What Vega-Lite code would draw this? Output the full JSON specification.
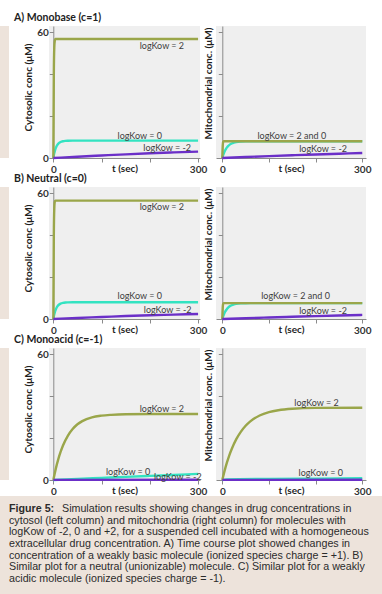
{
"$schema": "https://vega.github.io/schema/vega-lite/v6.json",
"background": "white",
"padding": {"top": 12, "left": 0, "right": 0, "bottom": 0},
"config": {
 "font": "Lato",
 "view": {"fill": "#efefef", "stroke": null},
 "axis": {"domainColor": "#8a8a8a", "tickColor": "#8a8a8a", "tickSize": 4, "labelFont": "Lato", "labelFontSize": 10, "labelFontWeight": "bold", "labelColor": "#333333", "titleFont": "Lato", "titleFontSize": 10, "titleFontWeight": "bold", "titleColor": "#1f1f1f", "grid": false, "minExtent": 0},
 "title": {"font": "Lato"}
},
"datasets": {
 "curves": [
  {"p":"A-cyt","k":"0","t":0,"c":0},{"p":"A-cyt","k":"0","t":1,"c":1.27},{"p":"A-cyt","k":"0","t":2,"c":2.35},{"p":"A-cyt","k":"0","t":3,"c":3.27},{"p":"A-cyt","k":"0","t":4,"c":4.04},{"p":"A-cyt","k":"0","t":5,"c":4.69},{"p":"A-cyt","k":"0","t":6,"c":5.25},{"p":"A-cyt","k":"0","t":8,"c":6.11},{"p":"A-cyt","k":"0","t":10,"c":6.73},{"p":"A-cyt","k":"0","t":12,"c":7.18},{"p":"A-cyt","k":"0","t":15,"c":7.62},{"p":"A-cyt","k":"0","t":20,"c":8.0},{"p":"A-cyt","k":"0","t":25,"c":8.17},{"p":"A-cyt","k":"0","t":30,"c":8.24},{"p":"A-cyt","k":"0","t":40,"c":8.29},{"p":"A-cyt","k":"0","t":300,"c":8.3},
  {"p":"A-cyt","k":"2","t":0,"c":0},{"p":"A-cyt","k":"2","t":1,"c":40},{"p":"A-cyt","k":"2","t":2,"c":53},{"p":"A-cyt","k":"2","t":3,"c":56},{"p":"A-cyt","k":"2","t":4,"c":56.8},{"p":"A-cyt","k":"2","t":300,"c":56.8},
  {"p":"A-cyt","k":"-2","t":0,"c":0},{"p":"A-cyt","k":"-2","t":50,"c":0.62},{"p":"A-cyt","k":"-2","t":100,"c":1.2},{"p":"A-cyt","k":"-2","t":150,"c":1.75},{"p":"A-cyt","k":"-2","t":200,"c":2.25},{"p":"A-cyt","k":"-2","t":250,"c":2.68},{"p":"A-cyt","k":"-2","t":300,"c":3.05},

  {"p":"A-mito","k":"0","t":0,"c":0},{"p":"A-mito","k":"0","t":2,"c":1.45},{"p":"A-mito","k":"0","t":4,"c":2.64},{"p":"A-mito","k":"0","t":6,"c":3.61},{"p":"A-mito","k":"0","t":8,"c":4.41},{"p":"A-mito","k":"0","t":10,"c":5.06},{"p":"A-mito","k":"0","t":13,"c":5.82},{"p":"A-mito","k":"0","t":16,"c":6.38},{"p":"A-mito","k":"0","t":20,"c":6.92},{"p":"A-mito","k":"0","t":25,"c":7.34},{"p":"A-mito","k":"0","t":30,"c":7.6},{"p":"A-mito","k":"0","t":40,"c":7.85},{"p":"A-mito","k":"0","t":50,"c":7.95},{"p":"A-mito","k":"0","t":60,"c":7.98},{"p":"A-mito","k":"0","t":300,"c":8.0},
  {"p":"A-mito","k":"2","t":0,"c":0},{"p":"A-mito","k":"2","t":1,"c":6},{"p":"A-mito","k":"2","t":2,"c":7.8},{"p":"A-mito","k":"2","t":3,"c":8},{"p":"A-mito","k":"2","t":300,"c":8},
  {"p":"A-mito","k":"-2","t":0,"c":0},{"p":"A-mito","k":"-2","t":50,"c":0.45},{"p":"A-mito","k":"-2","t":100,"c":0.88},{"p":"A-mito","k":"-2","t":150,"c":1.3},{"p":"A-mito","k":"-2","t":200,"c":1.7},{"p":"A-mito","k":"-2","t":250,"c":2.05},{"p":"A-mito","k":"-2","t":300,"c":2.4},

  {"p":"B-cyt","k":"0","t":0,"c":0},{"p":"B-cyt","k":"0","t":1,"c":1.23},{"p":"B-cyt","k":"0","t":2,"c":2.27},{"p":"B-cyt","k":"0","t":3,"c":3.15},{"p":"B-cyt","k":"0","t":4,"c":3.89},{"p":"B-cyt","k":"0","t":5,"c":4.52},{"p":"B-cyt","k":"0","t":6,"c":5.06},{"p":"B-cyt","k":"0","t":8,"c":5.89},{"p":"B-cyt","k":"0","t":10,"c":6.49},{"p":"B-cyt","k":"0","t":12,"c":6.92},{"p":"B-cyt","k":"0","t":15,"c":7.34},{"p":"B-cyt","k":"0","t":20,"c":7.71},{"p":"B-cyt","k":"0","t":25,"c":7.88},{"p":"B-cyt","k":"0","t":30,"c":7.95},{"p":"B-cyt","k":"0","t":40,"c":7.99},{"p":"B-cyt","k":"0","t":300,"c":8.0},
  {"p":"B-cyt","k":"2","t":0,"c":0},{"p":"B-cyt","k":"2","t":1,"c":40},{"p":"B-cyt","k":"2","t":2,"c":53},{"p":"B-cyt","k":"2","t":3,"c":56},{"p":"B-cyt","k":"2","t":4,"c":56.5},{"p":"B-cyt","k":"2","t":300,"c":56.5},
  {"p":"B-cyt","k":"-2","t":0,"c":0},{"p":"B-cyt","k":"-2","t":50,"c":0.5},{"p":"B-cyt","k":"-2","t":100,"c":0.95},{"p":"B-cyt","k":"-2","t":150,"c":1.4},{"p":"B-cyt","k":"-2","t":200,"c":1.8},{"p":"B-cyt","k":"-2","t":250,"c":2.1},{"p":"B-cyt","k":"-2","t":300,"c":2.4},

  {"p":"B-mito","k":"0","t":0,"c":0},{"p":"B-mito","k":"0","t":2,"c":1.38},{"p":"B-mito","k":"0","t":4,"c":2.51},{"p":"B-mito","k":"0","t":6,"c":3.43},{"p":"B-mito","k":"0","t":8,"c":4.19},{"p":"B-mito","k":"0","t":10,"c":4.8},{"p":"B-mito","k":"0","t":13,"c":5.53},{"p":"B-mito","k":"0","t":16,"c":6.07},{"p":"B-mito","k":"0","t":20,"c":6.57},{"p":"B-mito","k":"0","t":25,"c":6.98},{"p":"B-mito","k":"0","t":30,"c":7.22},{"p":"B-mito","k":"0","t":40,"c":7.46},{"p":"B-mito","k":"0","t":50,"c":7.55},{"p":"B-mito","k":"0","t":60,"c":7.58},{"p":"B-mito","k":"0","t":300,"c":7.6},
  {"p":"B-mito","k":"2","t":0,"c":0},{"p":"B-mito","k":"2","t":1,"c":5.7},{"p":"B-mito","k":"2","t":2,"c":7.4},{"p":"B-mito","k":"2","t":3,"c":7.6},{"p":"B-mito","k":"2","t":300,"c":7.6},
  {"p":"B-mito","k":"-2","t":0,"c":0},{"p":"B-mito","k":"-2","t":50,"c":0.38},{"p":"B-mito","k":"-2","t":100,"c":0.72},{"p":"B-mito","k":"-2","t":150,"c":1.05},{"p":"B-mito","k":"-2","t":200,"c":1.38},{"p":"B-mito","k":"-2","t":250,"c":1.68},{"p":"B-mito","k":"-2","t":300,"c":1.95},

  {"p":"C-cyt","k":"0","t":0,"c":0},{"p":"C-cyt","k":"0","t":50,"c":0.5},{"p":"C-cyt","k":"0","t":100,"c":1.0},{"p":"C-cyt","k":"0","t":150,"c":1.48},{"p":"C-cyt","k":"0","t":200,"c":1.95},{"p":"C-cyt","k":"0","t":250,"c":2.42},{"p":"C-cyt","k":"0","t":300,"c":2.9},
  {"p":"C-cyt","k":"2","t":0,"c":0},{"p":"C-cyt","k":"2","t":5,"c":5.32},{"p":"C-cyt","k":"2","t":10,"c":9.75},{"p":"C-cyt","k":"2","t":15,"c":13.4},{"p":"C-cyt","k":"2","t":20,"c":16.5},{"p":"C-cyt","k":"2","t":30,"c":21.1},{"p":"C-cyt","k":"2","t":40,"c":24.3},{"p":"C-cyt","k":"2","t":50,"c":26.6},{"p":"C-cyt","k":"2","t":60,"c":28.1},{"p":"C-cyt","k":"2","t":80,"c":29.9},{"p":"C-cyt","k":"2","t":100,"c":30.7},{"p":"C-cyt","k":"2","t":120,"c":31.1},{"p":"C-cyt","k":"2","t":150,"c":31.4},{"p":"C-cyt","k":"2","t":200,"c":31.5},{"p":"C-cyt","k":"2","t":300,"c":31.5},
  {"p":"C-cyt","k":"-2","t":0,"c":0.05},{"p":"C-cyt","k":"-2","t":300,"c":0.15},

  {"p":"C-mito","k":"0","t":0,"c":0},{"p":"C-mito","k":"0","t":10,"c":0.3},{"p":"C-mito","k":"0","t":100,"c":0.5},{"p":"C-mito","k":"0","t":200,"c":0.65},{"p":"C-mito","k":"0","t":300,"c":0.8},
  {"p":"C-mito","k":"2","t":0,"c":0},{"p":"C-mito","k":"2","t":5,"c":4.49},{"p":"C-mito","k":"2","t":10,"c":8.37},{"p":"C-mito","k":"2","t":15,"c":11.8},{"p":"C-mito","k":"2","t":20,"c":14.7},{"p":"C-mito","k":"2","t":30,"c":19.5},{"p":"C-mito","k":"2","t":40,"c":23.1},{"p":"C-mito","k":"2","t":50,"c":25.9},{"p":"C-mito","k":"2","t":60,"c":28.0},{"p":"C-mito","k":"2","t":80,"c":30.8},{"p":"C-mito","k":"2","t":100,"c":32.4},{"p":"C-mito","k":"2","t":120,"c":33.3},{"p":"C-mito","k":"2","t":150,"c":34.0},{"p":"C-mito","k":"2","t":200,"c":34.4},{"p":"C-mito","k":"2","t":300,"c":34.5},
  {"p":"C-mito","k":"-2","t":0,"c":0.05},{"p":"C-mito","k":"-2","t":300,"c":0.1}
 ],
 "labels": [
  {"p":"A-cyt","text":"logKow = 2","t":225,"c":53.6},{"p":"A-cyt","text":"logKow = 0","t":179,"c":10.7},{"p":"A-cyt","text":"logKow = -2","t":236,"c":4.8},
  {"p":"A-mito","text":"logKow = 2 and 0","t":149,"c":10.7},{"p":"A-mito","text":"logKow = -2","t":216,"c":4.3},
  {"p":"B-cyt","text":"logKow = 2","t":225,"c":53.6},{"p":"B-cyt","text":"logKow = 0","t":179,"c":10.9},{"p":"B-cyt","text":"logKow = -2","t":237,"c":4.5},
  {"p":"B-mito","text":"logKow = 2 and 0","t":157,"c":10.9},{"p":"B-mito","text":"logKow = -2","t":216,"c":3.7},
  {"p":"C-cyt","text":"logKow = 2","t":225,"c":33.9},{"p":"C-cyt","text":"logKow = 0","t":155,"c":4.0},{"p":"C-cyt","text":"logKow = -2","t":258,"c":1.6},
  {"p":"C-mito","text":"logKow = 2","t":202,"c":36.8},{"p":"C-mito","text":"logKow = 0","t":211,"c":3.5}
 ],
 "caption": [
  {"line":1,"part":"label","text":"Figure 5:"},
  {"line":1,"part":"first","text":"Simulation results showing changes in drug concentrations in"},
  {"line":2,"part":"body","text":"cytosol (left column) and mitochondria (right column) for molecules with"},
  {"line":3,"part":"body","text":"logKow of -2, 0 and +2, for a suspended cell incubated with a homogeneous"},
  {"line":4,"part":"body","text":"extracellular drug concentration. A) Time course plot showed changes in"},
  {"line":5,"part":"body","text":"concentration of a weakly basic molecule (ionized species charge = +1). B)"},
  {"line":6,"part":"body","text":"Similar plot for a neutral (unionizable) molecule. C) Similar plot for a weakly"},
  {"line":7,"part":"body","text":"acidic molecule (ionized species charge = -1)."}
 ],
 "blank": [{"text": ""}]
},
"columns": 1,
"spacing": -1,
"concat": [
 {"title": {"text": "A) Monobase (c=1)", "anchor": "start", "frame": "bounds", "dx": 14, "offset": 2, "fontSize": 10.5, "fontWeight": "bold", "color": "#222222"},
  "bounds": "flush", "spacing": 16,
  "hconcat": [
   {"width": 9, "height": 132, "view": {"fill": "#ede3db", "stroke": null}, "data": {"name": "blank"}, "mark": {"type": "text"}, "encoding": {"text": {"field": "text", "type": "nominal"}}},
   {"width": 8, "height": 10, "view": {"fill": null, "stroke": null}, "data": {"name": "blank"}, "mark": {"type": "text"}, "encoding": {"text": {"field": "text", "type": "nominal"}}},
   {"width": 151, "height": 132, "layer": [
    {"data": {"name": "curves"}, "transform": [{"filter": "datum.p == 'A-cyt'"}], "mark": {"type": "line", "strokeWidth": 2.4, "interpolate": "monotone"},
     "encoding": {
      "x": {"field": "t", "type": "quantitative", "scale": {"domain": [-9, 304], "nice": false, "zero": false}, "axis": {"title": "t (sec)", "values": [0,50,100,150,200,250,300], "labelExpr": "datum.value == 0 || datum.value == 300 ? datum.label : ''", "labelFlush": false, "labelOverlap": false, "labelPadding": 2, "titleY": 13.5, "titleBaseline": "alphabetic"}},
      "y": {"field": "c", "type": "quantitative", "scale": {"domain": [0, 63], "nice": false, "zero": false}, "axis": {"title": "Cytosolic conc (μM)", "values": [0,10,20,30,40,50,60], "labelExpr": "datum.value % 30 == 0 ? datum.label : ''", "offset": -4.3, "labelPadding": 1, "titlePadding": 3, "titleY": 61, "minExtent": 0, "labelOverlap": false}},
      "color": {"field": "k", "type": "nominal", "scale": {"domain": ["2","0","-2"], "range": ["#9aa64a","#33e3c1","#6b2fc8"]}, "legend": null}}},
    {"data": {"name": "labels"}, "transform": [{"filter": "datum.p == 'A-cyt'"}], "mark": {"type": "text", "fontSize": 9, "color": "#3d3d3d", "font": "Lato"},
     "encoding": {"x": {"field": "t", "type": "quantitative"}, "y": {"field": "c", "type": "quantitative"}, "text": {"field": "text", "type": "nominal"}}}
   ]},
   {"width": 150, "height": 132, "layer": [
    {"data": {"name": "curves"}, "transform": [{"filter": "datum.p == 'A-mito'"}], "mark": {"type": "line", "strokeWidth": 2.4, "interpolate": "monotone"},
     "encoding": {
      "x": {"field": "t", "type": "quantitative", "scale": {"domain": [-13.5, 308], "nice": false, "zero": false}, "axis": {"title": "t (sec)", "values": [0,50,100,150,200,250,300], "labelExpr": "datum.value == 0 || datum.value == 300 ? datum.label : ''", "labelFlush": false, "labelOverlap": false, "labelPadding": 2, "titleY": 13.5, "titleBaseline": "alphabetic"}},
      "y": {"field": "c", "type": "quantitative", "scale": {"domain": [0, 63], "nice": false, "zero": false}, "axis": {"title": "Mitochondrial conc. (μM)", "values": [0,5,10,15,20,25,30,35,40,45,50,55,60], "labels": false, "offset": -6.3, "titlePadding": 4, "titleY": 57, "minExtent": 0}},
      "color": {"field": "k", "type": "nominal", "scale": {"domain": ["2","0","-2"], "range": ["#9aa64a","#33e3c1","#6b2fc8"]}, "legend": null}}},
    {"data": {"name": "labels"}, "transform": [{"filter": "datum.p == 'A-mito'"}], "mark": {"type": "text", "fontSize": 9, "color": "#3d3d3d", "font": "Lato"},
     "encoding": {"x": {"field": "t", "type": "quantitative"}, "y": {"field": "c", "type": "quantitative"}, "text": {"field": "text", "type": "nominal"}}}
   ]}
  ]},
 {"title": {"text": "B) Neutral (c=0)", "anchor": "start", "frame": "bounds", "dx": 14, "offset": 2, "fontSize": 10.5, "fontWeight": "bold", "color": "#222222"},
  "bounds": "flush", "spacing": 16,
  "hconcat": [
   {"width": 9, "height": 132, "view": {"fill": "#ede3db", "stroke": null}, "data": {"name": "blank"}, "mark": {"type": "text"}, "encoding": {"text": {"field": "text", "type": "nominal"}}},
   {"width": 8, "height": 10, "view": {"fill": null, "stroke": null}, "data": {"name": "blank"}, "mark": {"type": "text"}, "encoding": {"text": {"field": "text", "type": "nominal"}}},
   {"width": 151, "height": 132, "layer": [
    {"data": {"name": "curves"}, "transform": [{"filter": "datum.p == 'B-cyt'"}], "mark": {"type": "line", "strokeWidth": 2.4, "interpolate": "monotone"},
     "encoding": {
      "x": {"field": "t", "type": "quantitative", "scale": {"domain": [-9, 304], "nice": false, "zero": false}, "axis": {"title": "t (sec)", "values": [0,50,100,150,200,250,300], "labelExpr": "datum.value == 0 || datum.value == 300 ? datum.label : ''", "labelFlush": false, "labelOverlap": false, "labelPadding": 2, "titleY": 13.5, "titleBaseline": "alphabetic"}},
      "y": {"field": "c", "type": "quantitative", "scale": {"domain": [0, 63], "nice": false, "zero": false}, "axis": {"title": "Cytosolic conc (μM)", "values": [0,10,20,30,40,50,60], "labelExpr": "datum.value % 30 == 0 ? datum.label : ''", "offset": -4.3, "labelPadding": 1, "titlePadding": 3, "titleY": 61, "minExtent": 0, "labelOverlap": false}},
      "color": {"field": "k", "type": "nominal", "scale": {"domain": ["2","0","-2"], "range": ["#9aa64a","#33e3c1","#6b2fc8"]}, "legend": null}}},
    {"data": {"name": "labels"}, "transform": [{"filter": "datum.p == 'B-cyt'"}], "mark": {"type": "text", "fontSize": 9, "color": "#3d3d3d", "font": "Lato"},
     "encoding": {"x": {"field": "t", "type": "quantitative"}, "y": {"field": "c", "type": "quantitative"}, "text": {"field": "text", "type": "nominal"}}}
   ]},
   {"width": 150, "height": 132, "layer": [
    {"data": {"name": "curves"}, "transform": [{"filter": "datum.p == 'B-mito'"}], "mark": {"type": "line", "strokeWidth": 2.4, "interpolate": "monotone"},
     "encoding": {
      "x": {"field": "t", "type": "quantitative", "scale": {"domain": [-13.5, 308], "nice": false, "zero": false}, "axis": {"title": "t (sec)", "values": [0,50,100,150,200,250,300], "labelExpr": "datum.value == 0 || datum.value == 300 ? datum.label : ''", "labelFlush": false, "labelOverlap": false, "labelPadding": 2, "titleY": 13.5, "titleBaseline": "alphabetic"}},
      "y": {"field": "c", "type": "quantitative", "scale": {"domain": [0, 63], "nice": false, "zero": false}, "axis": {"title": "Mitochondrial conc. (μM)", "values": [0,5,10,15,20,25,30,35,40,45,50,55,60], "labels": false, "offset": -6.3, "titlePadding": 4, "titleY": 57, "minExtent": 0}},
      "color": {"field": "k", "type": "nominal", "scale": {"domain": ["2","0","-2"], "range": ["#9aa64a","#33e3c1","#6b2fc8"]}, "legend": null}}},
    {"data": {"name": "labels"}, "transform": [{"filter": "datum.p == 'B-mito'"}], "mark": {"type": "text", "fontSize": 9, "color": "#3d3d3d", "font": "Lato"},
     "encoding": {"x": {"field": "t", "type": "quantitative"}, "y": {"field": "c", "type": "quantitative"}, "text": {"field": "text", "type": "nominal"}}}
   ]}
  ]},
 {"title": {"text": "C) Monoacid (c=-1)", "anchor": "start", "frame": "bounds", "dx": 14, "offset": 2, "fontSize": 10.5, "fontWeight": "bold", "color": "#222222"},
  "bounds": "flush", "spacing": 16,
  "hconcat": [
   {"width": 9, "height": 132, "view": {"fill": "#ede3db", "stroke": null}, "data": {"name": "blank"}, "mark": {"type": "text"}, "encoding": {"text": {"field": "text", "type": "nominal"}}},
   {"width": 8, "height": 10, "view": {"fill": null, "stroke": null}, "data": {"name": "blank"}, "mark": {"type": "text"}, "encoding": {"text": {"field": "text", "type": "nominal"}}},
   {"width": 151, "height": 132, "layer": [
    {"data": {"name": "curves"}, "transform": [{"filter": "datum.p == 'C-cyt'"}], "mark": {"type": "line", "strokeWidth": 2.4, "interpolate": "monotone"},
     "encoding": {
      "x": {"field": "t", "type": "quantitative", "scale": {"domain": [-9, 304], "nice": false, "zero": false}, "axis": {"title": "t (sec)", "values": [0,50,100,150,200,250,300], "labelExpr": "datum.value == 0 || datum.value == 300 ? datum.label : ''", "labelFlush": false, "labelOverlap": false, "labelPadding": 2, "titleY": 13.5, "titleBaseline": "alphabetic"}},
      "y": {"field": "c", "type": "quantitative", "scale": {"domain": [0, 63], "nice": false, "zero": false}, "axis": {"title": "Cytosolic conc (μM)", "values": [0,10,20,30,40,50,60], "labelExpr": "datum.value % 30 == 0 ? datum.label : ''", "offset": -4.3, "labelPadding": 1, "titlePadding": 3, "titleY": 61, "minExtent": 0, "labelOverlap": false}},
      "color": {"field": "k", "type": "nominal", "scale": {"domain": ["2","0","-2"], "range": ["#9aa64a","#33e3c1","#6b2fc8"]}, "legend": null}}},
    {"data": {"name": "labels"}, "transform": [{"filter": "datum.p == 'C-cyt'"}], "mark": {"type": "text", "fontSize": 9, "color": "#3d3d3d", "font": "Lato"},
     "encoding": {"x": {"field": "t", "type": "quantitative"}, "y": {"field": "c", "type": "quantitative"}, "text": {"field": "text", "type": "nominal"}}}
   ]},
   {"width": 150, "height": 132, "layer": [
    {"data": {"name": "curves"}, "transform": [{"filter": "datum.p == 'C-mito'"}], "mark": {"type": "line", "strokeWidth": 2.4, "interpolate": "monotone"},
     "encoding": {
      "x": {"field": "t", "type": "quantitative", "scale": {"domain": [-13.5, 308], "nice": false, "zero": false}, "axis": {"title": "t (sec)", "values": [0,50,100,150,200,250,300], "labelExpr": "datum.value == 0 || datum.value == 300 ? datum.label : ''", "labelFlush": false, "labelOverlap": false, "labelPadding": 2, "titleY": 13.5, "titleBaseline": "alphabetic"}},
      "y": {"field": "c", "type": "quantitative", "scale": {"domain": [0, 63], "nice": false, "zero": false}, "axis": {"title": "Mitochondrial conc. (μM)", "values": [0,5,10,15,20,25,30,35,40,45,50,55,60], "labels": false, "offset": -6.3, "titlePadding": 4, "titleY": 57, "minExtent": 0}},
      "color": {"field": "k", "type": "nominal", "scale": {"domain": ["2","0","-2"], "range": ["#9aa64a","#33e3c1","#6b2fc8"]}, "legend": null}}},
    {"data": {"name": "labels"}, "transform": [{"filter": "datum.p == 'C-mito'"}], "mark": {"type": "text", "fontSize": 9, "color": "#3d3d3d", "font": "Lato"},
     "encoding": {"x": {"field": "t", "type": "quantitative"}, "y": {"field": "c", "type": "quantitative"}, "text": {"field": "text", "type": "nominal"}}}
   ]}
  ]},
 {"width": 382, "height": 102,
  "view": {"fill": "#ede3db", "stroke": null},
  "data": {"name": "caption"},
  "encoding": {
   "x": {"datum": 0, "type": "quantitative", "scale": {"domain": [0, 1], "nice": false, "zero": false}, "axis": null},
   "y": {"field": "line", "type": "quantitative", "scale": {"domain": [-0.114, 8.626], "reverse": true, "nice": false, "zero": false}, "axis": null},
   "text": {"field": "text", "type": "nominal"}
  },
  "layer": [
   {"transform": [{"filter": "datum.part == 'label'"}], "mark": {"type": "text", "align": "left", "baseline": "middle", "dx": 9, "font": "Liberation Sans", "fontSize": 10.7, "fontWeight": "bold", "color": "#2b2b2b"}},
   {"transform": [{"filter": "datum.part == 'first'"}], "mark": {"type": "text", "align": "left", "baseline": "middle", "dx": 62, "font": "Liberation Sans", "fontSize": 10.7, "color": "#2b2b2b"}},
   {"transform": [{"filter": "datum.part == 'body'"}], "mark": {"type": "text", "align": "left", "baseline": "middle", "dx": 9, "font": "Liberation Sans", "fontSize": 10.7, "color": "#2b2b2b"}}
  ]}
]
}
